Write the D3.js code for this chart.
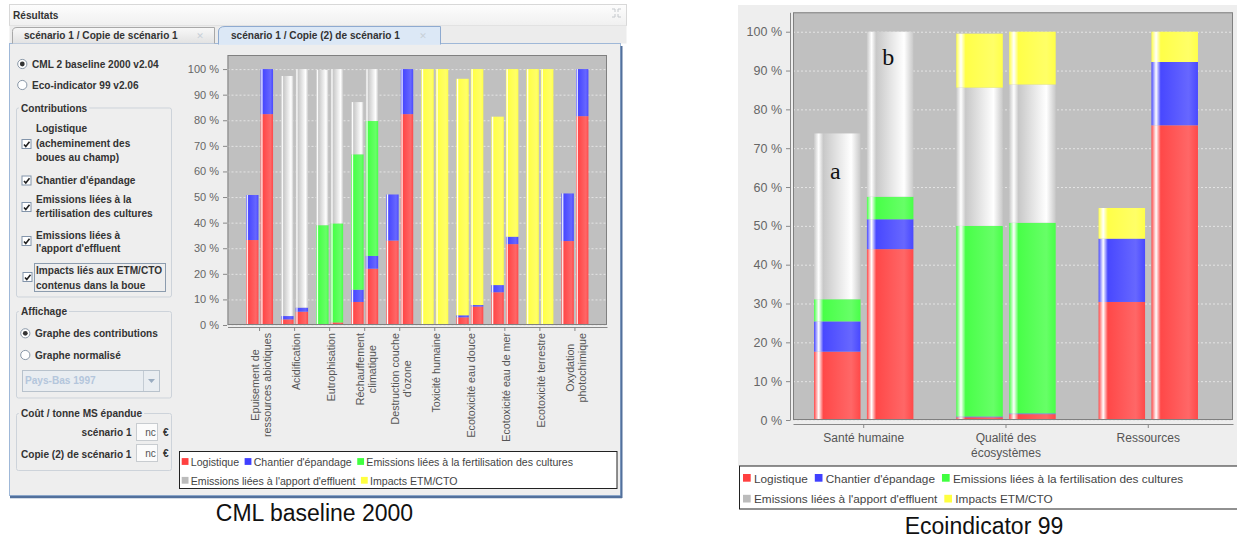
<!DOCTYPE html>
<html>
<head>
<meta charset="utf-8">
<script src="https://cdnjs.cloudflare.com/ajax/libs/d3/7.8.5/d3.min.js"></script>
<style>
  body { margin: 0; background: #fff; }
  svg { display: block; }
</style>
</head>
<body>
<div id="chart"></div>
<script>
const FONT = "'Liberation Sans', Arial, sans-serif";

// Series (same for both charts)
const seriesNames = ["Logistique", "Chantier d'épandage", "Emissions liées à la fertilisation des cultures",
                     "Emissions liées à l'apport d'effluent", "Impacts ETM/CTO"];
const seriesColors = ["#ff4848", "#4848ff", "#48ff48", "#c8c8c8", "#ffff48"];
const legendColors = ["#ff4040", "#4040ff", "#40ff40", "#bcbcbc", "#ffff40"];
const yTicks = [0, 10, 20, 30, 40, 50, 60, 70, 80, 90, 100];

// CML baseline 2000
const cmlCategories = [["Epuisement de", "ressources abiotiques"], ["Acidification"], ["Eutrophisation"],
                       ["Réchauffement", "climatique"], ["Destruction couche", "d'ozone"], ["Toxicité humaine"],
                       ["Ecotoxicité eau douce"], ["Ecotoxicité eau de mer"], ["Ecotoxicité terrestre"],
                       ["Oxydation", "photochimique"]];
// one row per series, one value per category (%)
const cmlScenario1 = [
  [33.2, 2.2, 0.3, 9.0, 33.0, 0, 3.0, 12.8, 0, 32.8],
  [17.6, 1.3, 0, 4.8, 18.0, 0, 0.8, 2.8, 0, 18.6],
  [0, 0, 38.7, 52.9, 0, 0, 0, 0, 0, 0],
  [0, 93.8, 60.7, 20.4, 0, 0, 0, 0, 0, 0],
  [0, 0, 0, 0, 0, 100, 92.4, 65.8, 100, 0]
];
const cmlCopie2 = [
  [82.4, 5.2, 1.0, 22.0, 82.4, 0, 7.2, 31.6, 0, 81.6],
  [17.6, 1.6, 0, 5.0, 17.6, 0, 0.6, 2.9, 0, 18.4],
  [0, 0, 38.7, 52.7, 0, 0, 0, 0, 0, 0],
  [0, 93.2, 60.3, 20.3, 0, 0, 0, 0, 0, 0],
  [0, 0, 0, 0, 0, 100, 92.2, 65.5, 100, 0]
];

// Ecoindicator 99
const ecoCategories = [["Santé humaine"], ["Qualité des", "écosystèmes"], ["Ressources"]];
const ecoScenario1 = [
  [17.6, 0.7, 30.4],
  [7.8, 0.2, 16.3],
  [5.7, 49.1, 0],
  [42.7, 35.6, 0],
  [0, 13.9, 7.9]
];
const ecoCopie2 = [
  [44.0, 1.5, 75.9],
  [7.7, 0.2, 16.3],
  [5.8, 49.1, 0],
  [42.5, 35.6, 0],
  [0, 13.6, 7.8]
];
const ecoNotes = [{ label: "a", cat: 0, scen: 0, v: 62 }, { label: "b", cat: 0, scen: 1, v: 91.5 }];

const width = 1237, height = 538;
const svg = d3.select("#chart").append("svg").attr("width", width).attr("height", height);
svg.append("rect").attr("width", width).attr("height", height).attr("fill", "#fff");

// JFreeChart-like gradient bar painter
const defs = svg.append("defs");
seriesColors.forEach((c, i) => {
  const c0 = d3.rgb(c).formatHex(), c1 = d3.rgb(c).brighter(1).formatHex();
  const gr = defs.append("linearGradient").attr("id", "grad" + i).attr("x1", 0).attr("x2", 1).attr("y1", 0).attr("y2", 0);
  [[0, c0], [0.1, "#ffffff"], [0.2, c0], [0.8, c1], [1, c0]].forEach(([o, col]) =>
    gr.append("stop").attr("offset", o).attr("stop-color", col));
});
const tabGrad = defs.append("linearGradient").attr("id", "tabgrad").attr("x1", 0).attr("x2", 0).attr("y1", 0).attr("y2", 1);
tabGrad.append("stop").attr("offset", 0).attr("stop-color", "#f8f8f8");
tabGrad.append("stop").attr("offset", 1).attr("stop-color", "#e2e2e2");
const headGrad = defs.append("linearGradient").attr("id", "headgrad").attr("x1", 0).attr("x2", 0).attr("y1", 0).attr("y2", 1);
headGrad.append("stop").attr("offset", 0).attr("stop-color", "#fdfdfd");
headGrad.append("stop").attr("offset", 1).attr("stop-color", "#f0f0f0");

function txt(x, y, s, o = {}) {
  return svg.append("text").attr("x", x).attr("y", y).text(s)
    .attr("font-family", FONT).attr("font-size", o.size || 10.1)
    .attr("font-weight", o.bold === false ? null : "bold")
    .attr("fill", o.fill || "#333").attr("text-anchor", o.anchor || "start");
}

// ---------- Left application window ----------
svg.append("rect").attr("x", 9.5).attr("y", 4.5).attr("width", 617).attr("height", 21)
  .attr("fill", "url(#headgrad)").attr("stroke", "#d8d8d8");
svg.append("rect").attr("x", 9.5).attr("y", 25.5).attr("width", 617).attr("height", 18)
  .attr("fill", "#ececec").attr("stroke", "none");
txt(13, 18.5, "Résultats");
// maximize icon
svg.append("g").attr("stroke", "#c4c8cc").attr("fill", "none").attr("stroke-width", 1)
  .selectAll("path").data(["M612,9h3v3", "M621,9h-3v3", "M612,17h3v-3", "M621,17h-3v-3"]).join("path").attr("d", d => d);

// content panel
svg.append("rect").attr("x", 9.5).attr("y", 43.5).attr("width", 611).attr("height", 452)
  .attr("fill", "#eeeeee").attr("stroke", "#9fb8d8");
svg.append("line").attr("x1", 10).attr("x2", 622).attr("y1", 497).attr("y2", 497).attr("stroke", "#52709c").attr("stroke-width", 2.5);
svg.append("line").attr("x1", 621.5).attr("x2", 621.5).attr("y1", 46).attr("y2", 498).attr("stroke", "#52709c").attr("stroke-width", 2);

// tabs
svg.append("path").attr("d", "M12.5,43.5V31.5Q12.5,27.5 17,27.5H214.5V43.5")
  .attr("fill", "url(#tabgrad)").attr("stroke", "#a8a8a8");
svg.append("path").attr("d", "M218.5,44.5V31Q219,26.5 225,26.5H440.5V44.5")
  .attr("fill", "#dce8f6").attr("stroke", "#8eaad0");
svg.append("line").attr("x1", 219).attr("x2", 440).attr("y1", 44).attr("y2", 44).attr("stroke", "#dce8f6").attr("stroke-width", 1.5);
txt(24, 39, "scénario 1 / Copie de scénario 1");
txt(231, 39, "scénario 1 / Copie (2) de scénario 1");
[200, 423].forEach(x => svg.append("text").attr("x", x).attr("y", 39).text("✕")
  .attr("font-family", "DejaVu Sans").attr("font-size", 9).attr("fill", "#c8d0d8").attr("text-anchor", "middle"));

// radio buttons
function radio(cx, cy, on) {
  svg.append("circle").attr("cx", cx).attr("cy", cy).attr("r", 4.6).attr("fill", "#fff").attr("stroke", "#8a98a8");
  if (on) svg.append("circle").attr("cx", cx).attr("cy", cy).attr("r", 2.4).attr("fill", "#333");
}
function checkbox(x, y) {
  svg.append("rect").attr("x", x + 0.5).attr("y", y + 0.5).attr("width", 9).attr("height", 9).attr("fill", "#fff").attr("stroke", "#8294aa");
  svg.append("path").attr("d", `M${x + 2.5},${y + 5.5}L${x + 4.3},${y + 7.6}L${x + 8},${y + 2.8}`)
    .attr("fill", "none").attr("stroke", "#222").attr("stroke-width", 1.6);
}
function titledBox(y0, y1, title) {
  svg.append("rect").attr("x", 16.5).attr("y", y0 + 0.5).attr("width", 155).attr("height", y1 - y0)
    .attr("rx", 2).attr("fill", "none").attr("stroke", "#cdd3da");
  const t = txt(21, y0 + 4, title);
  const w = t.node().getComputedTextLength();
  svg.insert("rect", () => t.node()).attr("x", 19).attr("y", y0 - 3).attr("width", w + 4).attr("height", 7).attr("fill", "#eeeeee");
}

radio(22.3, 64, true);
txt(32, 67.7, "CML 2 baseline 2000 v2.04");
radio(22.3, 85, false);
txt(32, 88.7, "Eco-indicator 99 v2.06");

titledBox(107.5, 296.5, "Contributions");
checkbox(21.5, 139);
txt(36, 132, "Logistique");
txt(36, 146.5, "(acheminement des");
txt(36, 160.5, "boues au champ)");
checkbox(21.5, 175.5);
txt(36, 183.5, "Chantier d'épandage");
checkbox(21.5, 202);
txt(36, 202.5, "Emissions liées à la");
txt(36, 217, "fertilisation des cultures");
checkbox(21.5, 236);
txt(36, 238.5, "Emissions liées à");
txt(36, 252, "l'apport d'effluent");
checkbox(22.5, 272);
svg.append("rect").attr("x", 34.5).attr("y", 263.5).attr("width", 131).attr("height", 28).attr("fill", "none").attr("stroke", "#8c9cae");
txt(36, 274.3, "Impacts liés aux ETM/CTO");
txt(36, 288.5, "contenus dans la boue");

titledBox(311, 397.5, "Affichage");
radio(25.3, 333.3, true);
txt(35, 337, "Graphe des contributions");
radio(25.3, 355, false);
txt(35, 358.6, "Graphe normalisé");
svg.append("rect").attr("x", 22.5).attr("y", 370.5).attr("width", 137).attr("height", 21).attr("fill", "#e9edf1").attr("stroke", "#b8c2cc");
svg.append("line").attr("x1", 143.5).attr("x2", 143.5).attr("y1", 371).attr("y2", 391).attr("stroke", "#c4ccd4");
svg.append("path").attr("d", "M148,379h7l-3.5,4z").attr("fill", "#9aacc0");
txt(25, 384, "Pays-Bas 1997", { fill: "#b4c6dc" });

titledBox(413, 470, "Coût / tonne MS épandue");
txt(131.5, 436.3, "scénario 1", { anchor: "end" });
txt(131.5, 457.6, "Copie (2) de scénario 1", { anchor: "end" });
[423.5, 444.5].forEach(y => {
  svg.append("rect").attr("x", 136.5).attr("y", y).attr("width", 21).attr("height", 17).attr("fill", "#fbfbfb").attr("stroke", "#c8ccd0");
  txt(150.5, y + 12.3, "nc", { bold: false, fill: "#555", anchor: "middle" });
  txt(163, y + 12.3, "€");
});

// ---------- stacked bar chart ----------
function drawChart(cfg) {
  const rows = [];
  cfg.categories.forEach((cat, ci) => {
    cfg.scenarios.forEach((vals, si) => {
      const r = { cat: ci, scen: si };
      seriesNames.forEach((s, k) => { r[s] = vals[k][ci]; });
      rows.push(r);
    });
  });
  const stacked = d3.stack().keys(seriesNames)(rows);

  const p = cfg.plot;
  const pw = p.x1 - p.x0;
  const x0 = d3.scaleBand().domain(d3.range(cfg.categories.length))
    .range([p.x0, p.x1]).paddingInner(cfg.padInner).paddingOuter(cfg.padOuter).align(cfg.align);
  const x1 = d3.scaleBand().domain([0, 1]).range([0, x0.bandwidth()]).paddingInner(cfg.barGap);
  const y = d3.scaleLinear().domain([0, cfg.yMax]).range([p.y1, p.y0]);

  const g = svg.append("g");
  g.append("rect").attr("x", p.x0).attr("y", p.y0).attr("width", pw).attr("height", p.y1 - p.y0).attr("fill", "#c0c0c0");

  // dashed gridlines
  g.append("g").attr("transform", `translate(${p.x0},0)`)
    .call(d3.axisLeft(y).tickValues(yTicks).tickSize(-pw).tickFormat(""))
    .call(a => {
      a.select(".domain").remove();
      a.selectAll("line").attr("stroke", "#e4e4e4").attr("stroke-dasharray", "2,2");
    });

  // bars
  g.append("g").selectAll("g").data(stacked).join("g").attr("fill", (d, i) => `url(#grad${i})`)
    .selectAll("rect").data(d => d.filter(s => s[1] > s[0])).join("rect")
    .attr("x", d => x0(d.data.cat) + x1(d.data.scen))
    .attr("width", x1.bandwidth())
    .attr("y", d => y(d[1]))
    .attr("height", d => y(d[0]) - y(d[1]));

  g.append("rect").attr("x", p.x0 + 0.5).attr("y", p.y0 + 0.5).attr("width", pw - 1).attr("height", p.y1 - p.y0 - 1)
    .attr("fill", "none").attr("stroke", "#808080");

  // y axis
  const ya = g.append("g").attr("transform", `translate(${cfg.yAxisX},0)`)
    .call(d3.axisLeft(y).tickValues(yTicks).tickFormat(d => d + " %").tickSize(4).tickPadding(4).tickSizeOuter(0))
    .attr("font-family", FONT).attr("font-size", cfg.tickFont);
  ya.selectAll("text").attr("fill", "#666");
  ya.selectAll("line").attr("stroke", "#888");
  ya.select(".domain").attr("stroke", cfg.showYDomain ? "#888" : "none");

  // x axis
  const xa = g.append("g").attr("transform", `translate(0,${cfg.xAxisY})`)
    .call(d3.axisBottom(x0).tickSize(4).tickSizeOuter(0).tickFormat(""));
  xa.selectAll("line").attr("stroke", "#888");
  xa.select(".domain").attr("stroke", "#888");

  // category labels
  cfg.categories.forEach((lines, i) => {
    const cx = x0(i) + x0.bandwidth() / 2 + (cfg.labelDx || 0);
    if (cfg.rotate) {
      const lg = g.append("g").attr("transform", `translate(${cx},${cfg.labelY}) rotate(-90)`);
      const texts = lines.map(t => lg.append("text").text(t).attr("font-family", FONT)
        .attr("font-size", cfg.labelFont).attr("fill", "#555").attr("text-anchor", "middle"));
      const maxLen = d3.max(texts, t => t.node().getComputedTextLength());
      texts.forEach((t, k) => t.attr("x", -maxLen / 2).attr("y", (k - (lines.length - 1) / 2) * cfg.lineH).attr("dy", "0.36em"));
    } else {
      lines.forEach((t, k) => g.append("text").text(t).attr("x", cx).attr("y", cfg.labelY + k * cfg.lineH)
        .attr("font-family", FONT).attr("font-size", cfg.labelFont).attr("fill", "#555").attr("text-anchor", "middle"));
    }
  });

  (cfg.notes || []).forEach(n => {
    g.append("text").text(n.label)
      .attr("x", x0(n.cat) + x1(n.scen) + x1.bandwidth() / 2 - 2)
      .attr("y", y(n.v))
      .attr("font-family", "'Liberation Serif', 'Times New Roman', serif").attr("font-size", 24)
      .attr("fill", "#111").attr("text-anchor", "middle");
  });
}

function drawLegend(box, o) {
  const g = svg.append("g");
  g.append("rect").attr("x", box.x).attr("y", box.y).attr("width", box.w).attr("height", box.h)
    .attr("fill", "#fff").attr("stroke", "#222");
  [[0, 1, 2], [3, 4]].forEach((items, r) => {
    let x = o.x;
    const base = o.y + r * o.rowH;
    items.forEach(i => {
      g.append("rect").attr("x", x).attr("y", base - o.sw - 0.8).attr("width", o.sw).attr("height", o.sw).attr("fill", legendColors[i]);
      const t = g.append("text").attr("x", x + o.sw + o.pad).attr("y", base).text(seriesNames[i])
        .attr("font-family", FONT).attr("font-size", o.font).attr("fill", "#444");
      x += o.sw + o.pad + t.node().getComputedTextLength() + o.gap;
    });
  });
}

// CML chart (inside the window)
drawChart({
  categories: cmlCategories, scenarios: [cmlScenario1, cmlCopie2],
  plot: { x0: 227.5, x1: 607, y0: 55, y1: 325 }, yMax: 105.5,
  padInner: 0.23, padOuter: 0.53, align: 0.5, barGap: 0.15,
  yAxisX: 227, xAxisY: 327, tickFont: 11, labelFont: 10.7, lineH: 12,
  rotate: true, labelY: 333, labelDx: 1.5, showYDomain: false
});
drawLegend({ x: 179.5, y: 451.5, w: 437.5, h: 37 },
  { x: 181.7, y: 465.7, rowH: 18.8, sw: 6.8, pad: 2.3, gap: 5.5, font: 10.6 });
txt(314.5, 521, "CML baseline 2000", { bold: false, size: 23, fill: "#111", anchor: "middle" });

// Ecoindicator 99 chart
svg.append("rect").attr("x", 738).attr("y", 5).attr("width", 499).attr("height", 461).attr("fill", "#eeeeee");
drawChart({
  categories: ecoCategories, scenarios: [ecoScenario1, ecoCopie2],
  plot: { x0: 793, x1: 1233, y0: 12.3, y1: 420 }, yMax: 105,
  padInner: 0.3015, padOuter: 0.197, align: 0.375, barGap: 0.121,
  yAxisX: 790, xAxisY: 424, tickFont: 12.5, labelFont: 12, lineH: 15,
  rotate: false, labelY: 441.5, showYDomain: true, notes: ecoNotes
});
drawLegend({ x: 739.5, y: 466, w: 520, h: 43 },
  { x: 743, y: 482.5, rowH: 20.8, sw: 7.7, pad: 3.3, gap: 7, font: 11.8 });
txt(984, 534, "Ecoindicator 99", { bold: false, size: 23, fill: "#111", anchor: "middle" });
</script>
</body>
</html>
